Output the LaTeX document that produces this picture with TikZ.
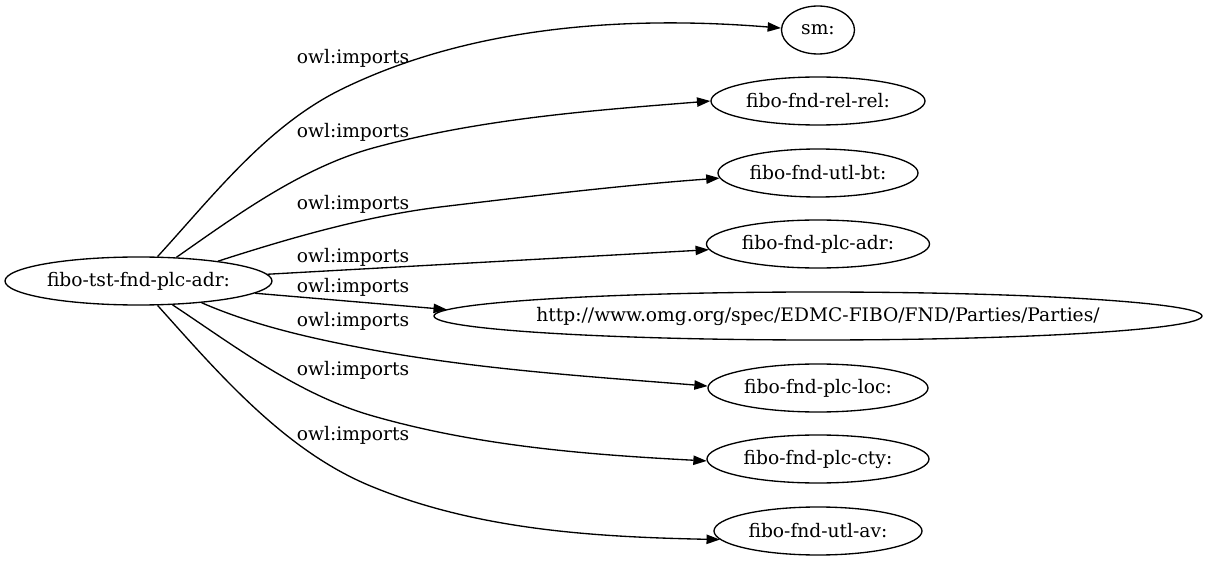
\documentclass[tikz,border=0pt]{standalone}
\usepackage{fontspec}
\setmainfont{DejaVu Serif}
\usetikzlibrary{shapes.geometric,arrows.meta}
\begin{document}
\begin{tikzpicture}[x=0.75pt,y=-0.75pt,
  gnode/.style={ellipse,draw,line width=1pt,inner sep=0pt,minimum height=36pt,font=\fontsize{14}{16}\selectfont},
  elabel/.style={anchor=base,inner sep=0pt,font=\fontsize{14}{16}\selectfont},
  imp/.style={line width=1pt,-{Triangle[length=10pt,width=7pt]}}]
\useasboundingbox (0,0) rectangle (1208,563);
\fill[white] (0,0) rectangle (1208,563);
% nodes
\node[gnode,minimum width=200.25pt] (main) at (138.5,281) {\makebox[0pt]{fibo-tst-fnd-plc-adr:}};
\node[gnode,minimum width=54.75pt] (sm) at (818,30) {\makebox[0pt]{sm:}};
\node[gnode,minimum width=160.5pt] (rel) at (818,101) {\makebox[0pt]{fibo-fnd-rel-rel:}};
\node[gnode,minimum width=150pt] (bt) at (818,173) {\makebox[0pt]{fibo-fnd-utl-bt:}};
\node[gnode,minimum width=167.25pt] (adr) at (818,244) {\makebox[0pt]{fibo-fnd-plc-adr:}};
\node[gnode,minimum width=576pt] (http) at (818,316) {\makebox[0pt]{http://www.omg.org/spec/EDMC-FIBO/FND/Parties/Parties/}};
\node[gnode,minimum width=165pt] (loc) at (818,388) {\makebox[0pt]{fibo-fnd-plc-loc:}};
\node[gnode,minimum width=166.5pt] (cty) at (818,459) {\makebox[0pt]{fibo-fnd-plc-cty:}};
\node[gnode,minimum width=156pt] (av) at (818,531) {\makebox[0pt]{fibo-fnd-utl-av:}};
% edges
\draw[imp] (main.52) .. controls (213,196) and (266,127) .. (340,90) .. controls (474,24) and (633,16) .. (sm.177);
\draw[imp] (main.32) .. controls (237,215) and (301,168) .. (373,148) .. controls (483,118) and (599,110) .. (rel.180);
\draw[imp] (main.14) .. controls (293,237) and (367,216) .. (440,207) .. controls (532,196) and (625,185) .. (bt.183);
\draw[imp] (main.3.5) -- (adr.183);
\draw[imp] (main.-6) -- (http.179);
\draw[imp] (main.-19.7) .. controls (255,326) and (314,339) .. (373,350) .. controls (483,370) and (596,377) .. (loc.179);
\draw[imp] (main.-35.6) .. controls (236,347) and (299,395) .. (373,416) .. controls (481,447) and (595,455) .. (cty.181.5);
\draw[imp] (main.-52.4) .. controls (220,375) and (286,452) .. (373,487) .. controls (481,531) and (600,537) .. (av.185);
% labels
\node[elabel] (l1) at (353,64) {owl:imports};
\node[elabel] (l2) at (353,138) {owl:imports};
\node[elabel] (l3) at (353,210) {owl:imports};
\node[elabel] (l4) at (353,263) {owl:imports};
\node[elabel] (l5) at (353,293) {owl:imports};
\node[elabel] (l6) at (353,327) {owl:imports};
\node[elabel] (l7) at (353,375) {owl:imports};
\node[elabel] (l8) at (353,440) {owl:imports};
\end{tikzpicture}
\end{document}
